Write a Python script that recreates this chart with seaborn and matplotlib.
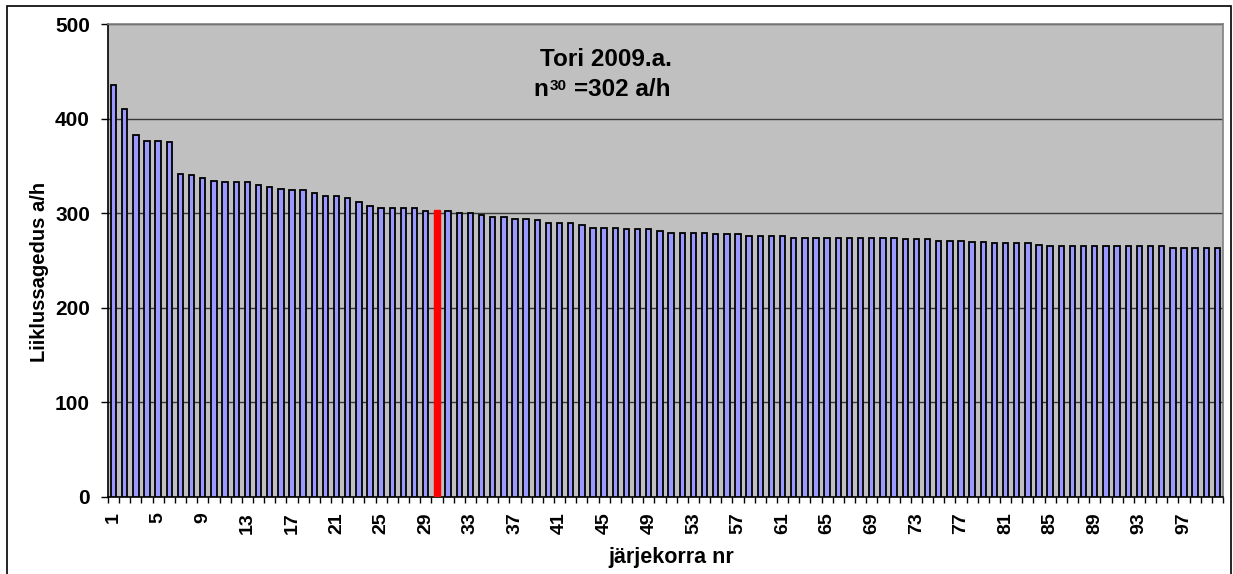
import matplotlib
matplotlib.use("Agg")
import matplotlib.pyplot as plt
from matplotlib.patches import Rectangle
import seaborn as sns
import pandas as pd

# ---- data ----
ranks = list(range(1, 101))
values = [435, 410, 383, 376, 376, 375, 341, 340, 337, 334,
          333, 333, 333, 330, 328, 326, 325, 325, 321, 318,
          318, 316, 312, 308, 306, 306, 306, 305, 302, 303,
          302, 300, 300, 298, 296, 296, 294, 294, 293, 290,
          290, 290, 287, 284, 284, 284, 283, 283, 283, 281,
          279, 279, 279, 279, 278, 278, 278, 276, 276, 276,
          276, 274, 274, 274, 274, 274, 274, 274, 274, 274,
          274, 273, 273, 273, 271, 271, 271, 270, 270, 268,
          268, 268, 268, 266, 265, 265, 265, 265, 265, 265,
          265, 265, 265, 265, 265, 263, 263, 263, 263, 263]
highlight_rank = 30
tick_labels = [str(r) for r in ranks[::4]]
y_ticks = [0, 100, 200, 300, 400, 500]
title_line1 = "Tori 2009.a."
xlabel = "järjekorra nr"
ylabel = "Liiklussagedus a/h"

BAR_COLOR = "#9999FF"
HL_COLOR = "#FF0000"
BG = "#C0C0C0"

sns.set_theme(style="white")
plt.rcParams["font.family"] = ["Liberation Sans", "DejaVu Sans"]
plt.rcParams["font.weight"] = "bold"
plt.rcParams["text.color"] = "black"
plt.rcParams["xtick.color"] = "black"
plt.rcParams["ytick.color"] = "black"
plt.rcParams["axes.labelcolor"] = "black"

W, H = 1233, 574
fig = plt.figure(figsize=(W / 100, H / 100), dpi=100)
fig.patch.set_facecolor("white")

def fx(px):
    return px / W

def fy(py):
    return (H - py) / H

ax = fig.add_axes([fx(108), fy(497), fx(1223) - fx(108), fy(24) - fy(497)])
ax.set_facecolor(BG)

df = pd.DataFrame({"rank": [str(r) for r in ranks], "value": values})
palette = {str(r): (HL_COLOR if r == highlight_rank else BAR_COLOR) for r in ranks}
sns.barplot(data=df, x="rank", y="value", hue="rank", palette=palette,
            order=[str(r) for r in ranks], hue_order=[str(r) for r in ranks],
            dodge=False, legend=False, width=0.48, saturation=1, ax=ax, zorder=3)

for i, p in enumerate(ax.patches):
    if ranks[i] == highlight_rank:
        p.set_edgecolor(HL_COLOR)
        p.set_linewidth(1.0)
    else:
        p.set_edgecolor("black")
        p.set_linewidth(1.3)
    p.set_zorder(3)

ax.set_xlim(-0.5, len(ranks) - 0.5)
ax.set_ylim(0, 500)

# gridlines
ax.set_yticks(y_ticks)
ax.yaxis.grid(True, color="#383838", linewidth=1.0, zorder=1)
ax.set_axisbelow(True)
ax.set_yticklabels([str(t) for t in y_ticks], fontsize=15, fontweight="bold",
                   color="black")
ax.tick_params(axis="y", which="major", direction="out", length=5, width=1,
               color="black", pad=8, left=True)

ax.set_xticks(list(range(0, len(ranks), 4)))
ax.set_xticklabels(tick_labels, rotation=90, fontsize=14, fontweight="bold",
                   color="black")
ax.set_xticks([i - 0.5 for i in range(len(ranks) + 1)], minor=True)
ax.tick_params(axis="x", which="major", length=0, pad=11, bottom=True)
ax.tick_params(axis="x", which="minor", direction="out", length=4.5, width=1,
               color="black", bottom=True)

ax.set_xlabel("")
ax.set_ylabel("")

for s in ["left", "bottom"]:
    ax.spines[s].set_color("black")
    ax.spines[s].set_linewidth(1.2)
for s in ["top", "right"]:
    ax.spines[s].set_color("#808080")
    ax.spines[s].set_linewidth(1.2)

# axis labels
fig.text(fx(40), fy(272), ylabel, rotation=90, ha="center", va="center",
         fontsize=14.5, fontweight="bold", color="black")
fig.text(fx(671), fy(557), xlabel, ha="center", va="center",
         fontsize=15.5, fontweight="bold", color="black")

# title inside the plot
fig.text(fx(606), fy(66), title_line1, ha="center", va="baseline",
         fontsize=17.5, fontweight="bold", color="black")
fig.text(fx(533), fy(96.5), "n", ha="left", va="baseline",
         fontsize=17.5, fontweight="bold", color="black")
fig.text(fx(550), fy(90), "30", ha="left", va="baseline",
         fontsize=11, fontweight="bold", color="black")
fig.text(fx(574), fy(96.5), "=302 a/h", ha="left", va="baseline",
         fontsize=17.5, fontweight="bold", color="black")

# outer chart border
fig.patches.append(Rectangle((fx(7), -0.05), fx(1231) - fx(7), fy(6) + 0.05,
                             transform=fig.transFigure, fill=False,
                             edgecolor="black", linewidth=1.2, clip_on=False))

fig.savefig("out.png", dpi=100, facecolor="white")
